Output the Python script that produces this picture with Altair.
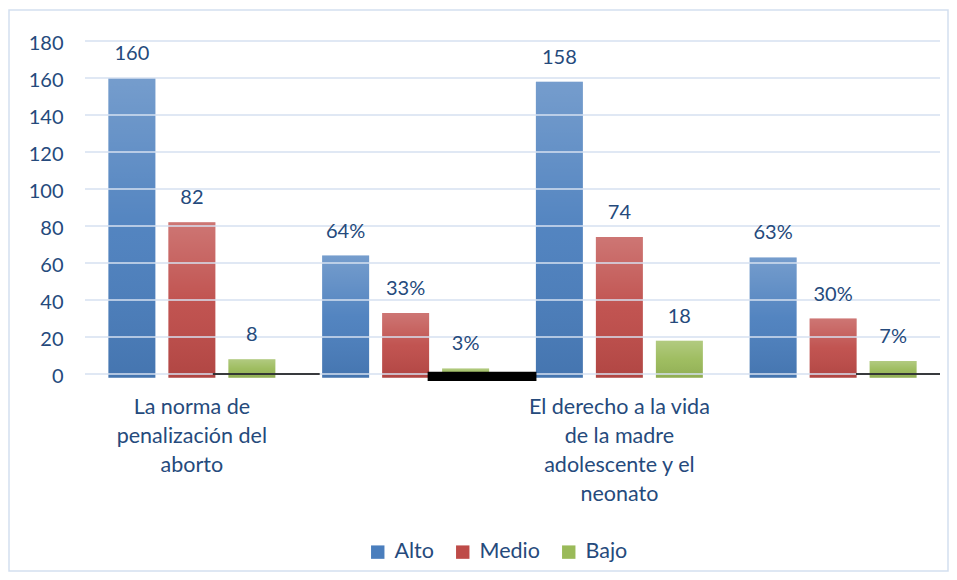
import altair as alt
import pandas as pd

groups = ["La norma de|penalización del|aborto", " ",
          "El derecho a la vida|de la madre|adolescente y el|neonato", "  "]
levels = ["Alto", "Medio", "Bajo"]
alto = [160, 64, 158, 63]
medio = [82, 33, 74, 30]
bajo = [8, 3, 18, 7]
suffix = ["", "%", "", "%"]
ticks = list(range(0, 181, 20))
colors = ["#4a7ebd", "#be4b48", "#9aba59"]

rows = []
for i, g in enumerate(groups):
    for lvl, vals in zip(levels, [alto, medio, bajo]):
        rows.append({"grupo": g, "nivel": lvl, "valor": vals[i],
                     "etiqueta": f"{vals[i]}{suffix[i]}"})
df = pd.DataFrame(rows)

TXT = "#254a7c"
FONT = "Lato"
GRID = "#d6e1f0"

x_axis = alt.Axis(labelExpr="split(datum.label, '|')", labelAngle=0,
                  labelFontSize=21.5, labelColor=TXT, labelFont=FONT,
                  labelLineHeight=29, labelPadding=22, ticks=False,
                  domain=False, labelBaseline="top", labelLimit=300)
y_axis = alt.Axis(values=ticks, grid=False, domain=False,
                  ticks=False, labelFontSize=20, labelColor=TXT,
                  labelFont=FONT, labelPadding=22, labelOffset=2)
x_scale = alt.Scale(paddingInner=0, paddingOuter=0)
y_scale = alt.Scale(domain=[0, 180], nice=False)

x_enc = alt.X("grupo:N", sort=groups, title=None, scale=x_scale, axis=x_axis)
xo_enc = alt.XOffset("nivel:N", sort=levels,
                     scale=alt.Scale(paddingInner=0.217, paddingOuter=0.39))
y_enc = alt.Y("valor:Q", title=None, scale=y_scale, axis=y_axis)

base = alt.Chart(df)
bars = base.mark_bar().encode(
    x=x_enc, xOffset=xo_enc, y=y_enc, y2=alt.datum(-2),
    color=alt.Color("nivel:N", sort=levels, title=None,
                    scale=alt.Scale(domain=levels, range=colors),
                    legend=alt.Legend(orient="none", direction="horizontal",
                                      legendX=282, legendY=500,
                                      symbolType="square", symbolSize=180,
                                      symbolStrokeWidth=0, labelFontSize=21.5,
                                      labelFont=FONT, labelColor=TXT,
                                      labelOffset=6, columnPadding=18)))
overlay = base.mark_bar(fill=alt.Gradient(
    gradient="linear", x1=0, x2=0, y1=0, y2=1,
    stops=[alt.GradientStop(color="rgba(255,255,255,0.24)", offset=0),
           alt.GradientStop(color="rgba(255,255,255,0.05)", offset=0.5),
           alt.GradientStop(color="rgba(0,0,0,0.07)", offset=1)])).encode(
    x=x_enc, xOffset=xo_enc, y=y_enc, y2=alt.datum(-2))

grid = alt.Chart(pd.DataFrame({"valor": ticks})).mark_rule(
    color=GRID, strokeWidth=1.6).encode(y=y_enc)

texts = base.mark_text(fontSize=20, font=FONT, color=TXT, baseline="middle",
                       dy=-24).encode(
    x=x_enc, xOffset=xo_enc, y=y_enc, text="etiqueta:N")

main = alt.layer(bars, overlay, grid, texts)

segs = pd.DataFrame({"s": [0.598, 1.603, 3.607], "e": [1.098, 2.112, 4.0],
                     "valor": [0.45, 1.2, 0.45], "b": [-0.45, -3.8, -0.45]})
seg_layer = alt.Chart(segs).mark_rect(color="black").encode(
    x=alt.X("s:Q", axis=None, scale=alt.Scale(domain=[0, 4], nice=False)),
    x2="e:Q", y=y_enc, y2="b:Q")

frame = alt.Chart(pd.DataFrame({"k": [0]})).mark_rect(
    filled=False, stroke="#d3dff0", strokeWidth=1.5).encode(
    x=alt.value(-76), x2=alt.value(863), y=alt.value(-31), y2=alt.value(530))

chart = alt.layer(main, seg_layer, frame).resolve_scale(
    x="independent").properties(
    width=855, height=333,
    padding={"left": 77, "top": 33, "right": 9, "bottom": 198},
    autosize=alt.AutoSizeParams(type="none"),
    background="white").configure_view(stroke=None)

chart.save("out.html", embed_options={"renderer": "svg", "actions": False})
